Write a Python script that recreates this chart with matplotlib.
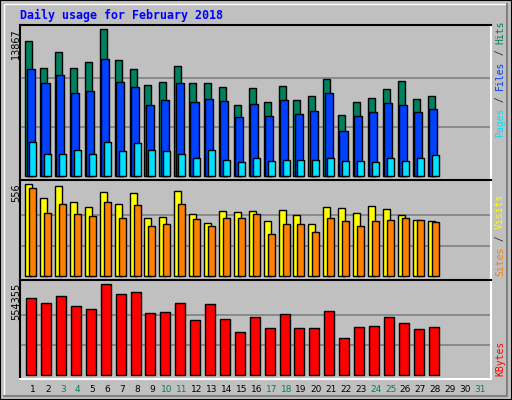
import matplotlib
matplotlib.use("Agg")
import matplotlib.pyplot as plt
from matplotlib.patches import Rectangle
from matplotlib.lines import Line2D

days = list(range(1, 29))
hits = [12706,10159,11669,10159,10725,13867,10914,10065,8556,8839,10348,8745,8745,8367,6669,8273,6952,8461,7141,7518,9122,5726,6952,7330,8178,8933,7235,7518]
files = [10065,8745,9499,7801,7990,11008,8839,8367,6669,7141,8745,6952,7235,7046,5537,6764,5632,7141,5820,6103,7801,4217,5632,6009,6858,6669,6009,6292]
pages = [3179,2047,2047,2424,2047,3179,2330,3085,2424,2330,2047,1670,2424,1481,1292,1670,1387,1481,1481,1481,1670,1387,1387,1292,1670,1387,1670,1953]
visits = [556,471,544,447,417,507,435,501,350,356,513,374,320,393,387,393,332,399,368,314,417,411,381,423,405,368,338,332]
sites = [532,381,435,374,362,447,350,429,302,314,435,344,302,350,350,374,254,314,314,266,350,332,302,332,338,350,338,326]
kbytes = [469084,438624,481268,420348,402072,554355,493452,505636,377704,383796,438624,335060,432532,341152,261956,353336,286324,371612,286324,286324,389888,225404,292416,298508,353336,316784,280232,292416]
day_labels = [str(d) for d in range(1, 32)]
weekend = {3,4,10,11,17,18,24,25,31}
title = "Daily usage for February 2018"

W, H = 512, 400
BG = "#C0C0C0"
fig = plt.figure(figsize=(5.12, 4.0), dpi=100, facecolor=BG)

def ax_at(x0, y0, x1, y1):
    return fig.add_axes([x0/W, 1-y1/H, (x1-x0)/W, (y1-y0)/H])

# frame
fig.add_artist(Rectangle((0,0),1,1,transform=fig.transFigure,fill=False,edgecolor="black",lw=1.5))
fig.add_artist(Line2D([4/W,4/W,507/W],[4/H,1-4/H,1-4/H],transform=fig.transFigure,color="white",lw=1))
fig.add_artist(Line2D([4/W,507/W,507/W],[4/H,4/H,1-4/H],transform=fig.transFigure,color="#808080",lw=1.5))

xl = (0.128, 31.74)
panels = [
    (25, 180, (-377, 14244), 13867, "13867"),
    (180, 280, (-22, 582), 556, "556"),
    (280, 379, (-22540, 580568), 554355, "554355"),
]
axes = []
for (y0, y1, yl, mx, lab) in panels:
    ax = ax_at(20, y0, 491, y1)
    ax.set_facecolor(BG)
    ax.set_xlim(*xl); ax.set_ylim(*yl)
    ax.set_xticks([]); ax.set_yticks([])
    for s in ["left", "top"]:
        ax.spines[s].set_color("black"); ax.spines[s].set_linewidth(1.5)
    for s in ["right", "bottom"]:
        ax.spines[s].set_color("white"); ax.spines[s].set_linewidth(1.5)
    for f in (1/3, 2/3):
        ax.axhline(mx*f, color="#808080", lw=1.2, zorder=0)
    fig.text(16/W, 1-(y0+3)/H, lab, rotation=90, ha="center", va="top", fontsize=7, family="DejaVu Sans")
    axes.append(ax)

kw = dict(edgecolor="black", linewidth=1, align="edge")
a1, a2, a3 = axes
a1.bar([d-0.52 for d in days], hits, width=0.47, color="#00805C", **kw)
a1.bar([d-0.43 for d in days], files, width=0.54, color="#0040FF", **kw)
a1.bar([d-0.25 for d in days], pages, width=0.47, color="#00E0FF", **kw)
a2.bar([d-0.52 for d in days], visits, width=0.47, color="#FFFF00", **kw)
a2.bar([d-0.25 for d in days], sites, width=0.47, color="#FF8000", **kw)
a3.bar([d-0.45 for d in days], kbytes, width=0.67, color="#FF0000", **kw)

for i, lab in enumerate(day_labels):
    d = i + 1
    xpx = 20 + (d - xl[0]) / (xl[1]-xl[0]) * 471
    fig.text(xpx/W, 1-389/H, lab, ha="center", va="center", fontsize=6.5,
             color="#00805C" if d in weekend else "black")

fig.text(20/W, 1-15/H, title, ha="left", va="center", fontsize=8.4, family="DejaVu Sans Mono",
         fontweight="bold", color="#0000FF")

CH = 5.83
def side(pieces, bottom):
    y = bottom
    for txt, col in pieces:
        fig.text(500/W, 1-y/H, txt, rotation=90, rotation_mode="anchor", ha="left", va="center",
                 fontsize=7, family="DejaVu Sans Mono", color=col)
        y -= CH*len(txt)

side([("Pages", "#00E0FF"), (" / ", "#303030"), ("Files", "#0040FF"), (" / ", "#303030"), ("Hits", "#00805C")], 137)
side([("Sites", "#FF8000"), (" / ", "#303030"), ("Visits", "#FFFF00")], 276)
side([("KBytes", "#FF0000")], 376)

fig.savefig("out.png", dpi=100, facecolor=BG)
